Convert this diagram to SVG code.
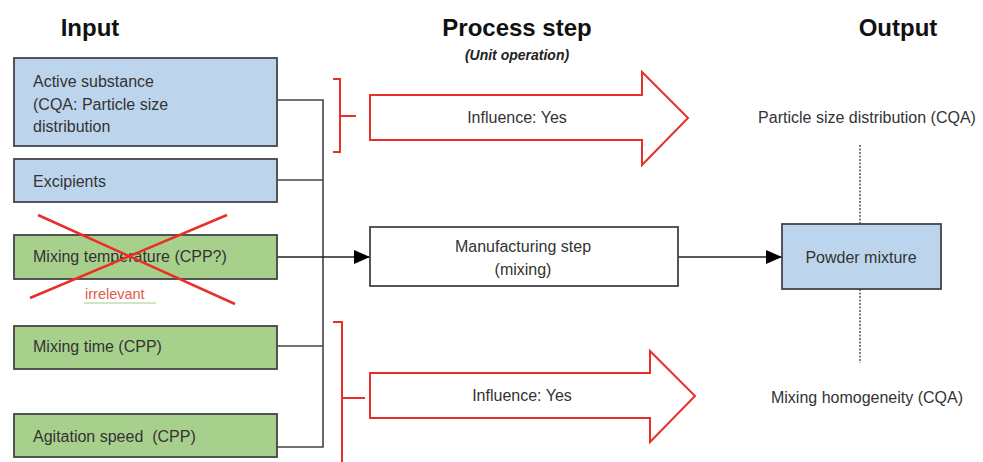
<svg xmlns="http://www.w3.org/2000/svg" width="983" height="462" viewBox="0 0 983 462">
<defs>
<style>
.t{font-family:"Liberation Sans",Arial,sans-serif;font-size:16px;fill:#333}
.h{font-family:"Liberation Sans",Arial,sans-serif;font-size:24px;font-weight:bold;fill:#111}
.blue{fill:#bdd5ec;stroke:#444;stroke-width:1.8}
.green{fill:#a8d08d;stroke:#444;stroke-width:1.8}
.white{fill:#fff;stroke:#444;stroke-width:1.8}
.con{fill:none;stroke:#444;stroke-width:1.6}
.red{fill:none;stroke:#e8302a;stroke-width:2}
.redarrow{fill:#fff;stroke:#e8302a;stroke-width:2}
.dot{fill:none;stroke:#555;stroke-width:1.5;stroke-dasharray:2 1.5}
</style>
<marker id="ah" markerWidth="16" markerHeight="14" viewBox="0 0 16 14" refX="16" refY="7" orient="auto" markerUnits="userSpaceOnUse">
<path d="M0,0 L16,7 L0,14 Z" fill="#000"/>
</marker>
</defs>
<rect width="983" height="462" fill="#fff"/>

<g id="titles">
<text class="h" x="90" y="36" text-anchor="middle">Input</text>
<text class="h" x="517" y="36" text-anchor="middle">Process step</text>
<text x="517" y="60" text-anchor="middle" style="font-family:'Liberation Sans',Arial,sans-serif;font-size:14px;font-weight:bold;font-style:italic;fill:#222">(Unit operation)</text>
<text class="h" x="898" y="36" text-anchor="middle">Output</text>
</g>

<g id="connectors">
<polyline class="con" points="277,100 323,100 323,447 277,447"/>
<line class="con" x1="277" y1="180" x2="323" y2="180"/>
<line class="con" x1="277" y1="346" x2="323" y2="346"/>
<line class="con" x1="277" y1="257" x2="370" y2="257" marker-end="url(#ah)" style="stroke:#222"/>
<line class="con" x1="678" y1="257" x2="782" y2="257" marker-end="url(#ah)" style="stroke:#222"/>
<line class="dot" x1="860" y1="145" x2="860" y2="224"/>
<line class="dot" x1="860" y1="289" x2="860" y2="363"/>
</g>

<g id="active">
<rect class="blue" x="14" y="58" width="263" height="88"/>
<text class="t" x="33" y="87">Active substance</text>
<text class="t" x="33" y="110">(CQA: Particle size</text>
<text class="t" x="33" y="132">distribution</text>
</g>

<g id="excipients">
<rect class="blue" x="14" y="159" width="263" height="43"/>
<text class="t" x="33" y="187">Excipients</text>
</g>

<g id="mixtemp">
<rect class="green" x="14" y="235" width="263" height="44"/>
<text class="t" x="33" y="262">Mixing temperature (CPP?)</text>
<line x1="38" y1="215" x2="235" y2="304" stroke="#e8302a" stroke-width="2.5"/>
<line x1="227" y1="215" x2="30" y2="298" stroke="#e8302a" stroke-width="2.5"/>
<line x1="84" y1="303" x2="156" y2="303" stroke="#9ccf8a" stroke-width="1"/>
<text x="85" y="299" style="font-family:'Liberation Sans',Arial,sans-serif;font-size:14.5px;fill:#e05a4e">irrelevant</text>
</g>

<g id="mixtime">
<rect class="green" x="14" y="326" width="263" height="43"/>
<text class="t" x="33" y="352">Mixing time (CPP)</text>
</g>

<g id="agitation">
<rect class="green" x="14" y="414" width="263" height="43"/>
<text class="t" x="33" y="442" xml:space="preserve">Agitation speed  (CPP)</text>
</g>

<g id="influence1">
<polyline class="red" points="333,79 340,79 340,152 333,152"/>
<line class="red" x1="340" y1="116" x2="356" y2="116"/>
<polygon class="redarrow" points="370,95 642,95 642,72 688,118 642,165 642,140 370,140"/>
<text class="t" x="517" y="123" text-anchor="middle">Influence: Yes</text>
</g>

<g id="manufacturing">
<rect class="white" x="370" y="227" width="308" height="59"/>
<text class="t" x="523" y="252" text-anchor="middle">Manufacturing step</text>
<text class="t" x="523" y="275" text-anchor="middle">(mixing)</text>
</g>

<g id="influence2">
<polyline class="red" points="333,322 342,322 342,462"/>
<line class="red" x1="342" y1="398" x2="365" y2="398"/>
<polygon class="redarrow" points="370,373 650,373 650,351 695,396 650,442 650,418 370,418"/>
<text class="t" x="522" y="401" text-anchor="middle">Influence: Yes</text>
</g>

<g id="powder">
<rect class="blue" x="782" y="224" width="159" height="65"/>
<text class="t" x="861" y="263" text-anchor="middle">Powder mixture</text>
</g>

<g id="outputs">
<text class="t" x="867" y="123" text-anchor="middle">Particle size distribution (CQA)</text>
<text class="t" x="867" y="403" text-anchor="middle">Mixing homogeneity (CQA)</text>
</g>
</svg>
